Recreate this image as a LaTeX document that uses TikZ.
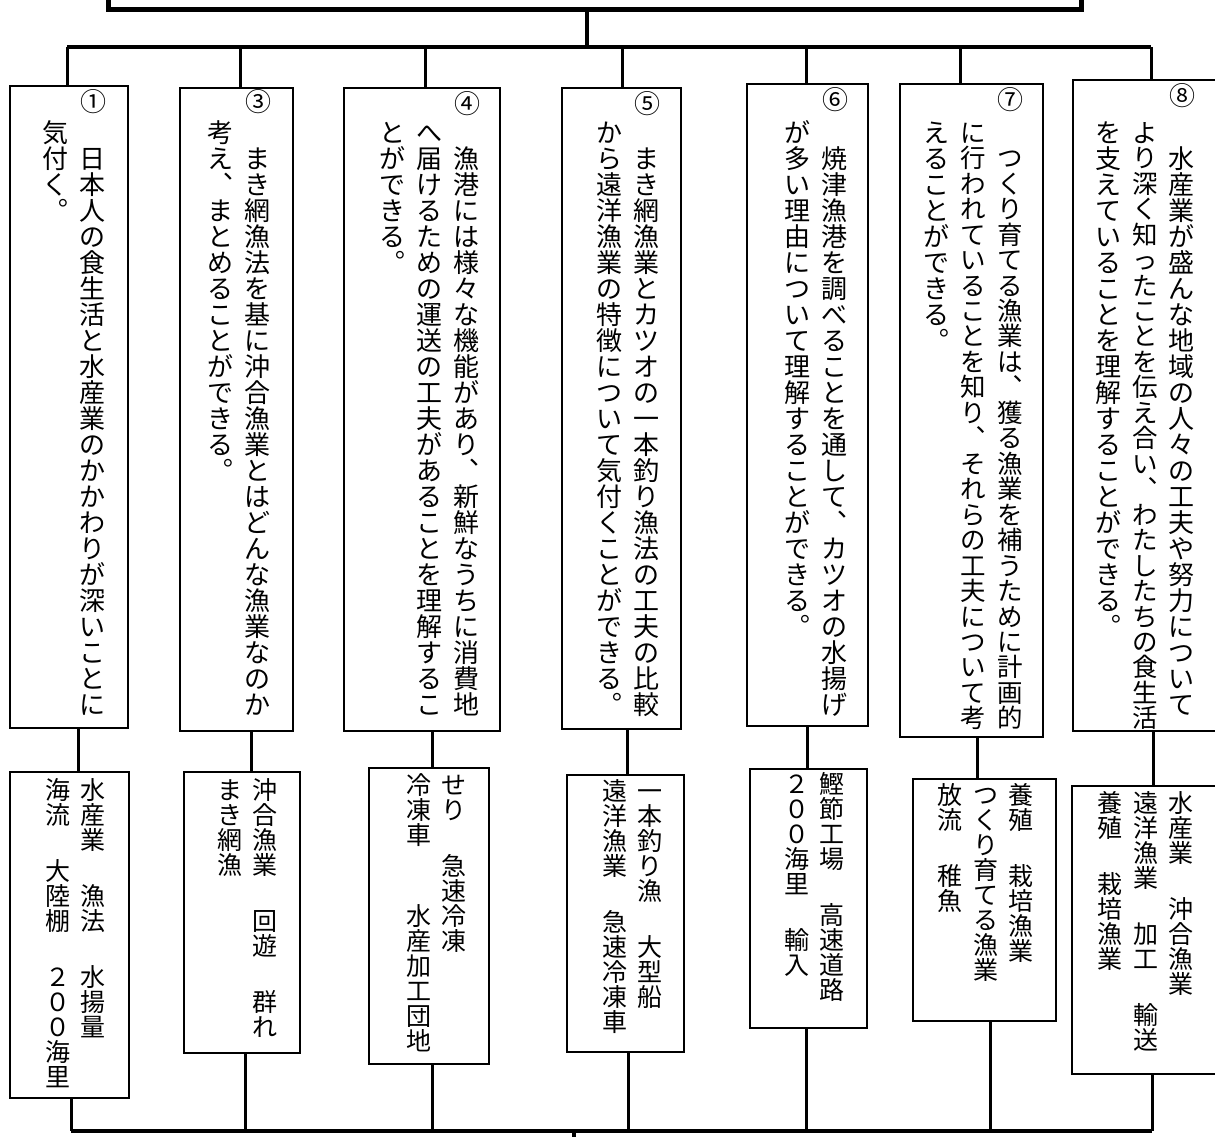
\documentclass[tikz,border=0pt]{standalone}
\usepackage{fontspec}
\setmainfont{Noto Sans CJK JP}
\usetikzlibrary{positioning,fit}

% vertical columns, one character per cell
\newcommand{\tcell}[1]{\hbox to 1em{\hss\vrule height .88em depth .12em width 0pt\relax #1\hss}}
\def\gap{gap}
\def\tcolloop#1{%
  \ifx#1\relax
    \let\next\relax
  \else
    \ifx#1\gap \vskip 1.25em\relax
    \else \tcell{#1}\fi
    \let\next\tcolloop
  \fi
  \next}
\newcommand{\tcol}[1]{\vtop{\offinterlineskip\tcolloop#1\relax}}
% a column that needs one cell more
\newcommand{\tcoll}[1]{{\fontsize{12.73pt}{12.73pt}\selectfont\tcol{#1}}}
\newcommand{\cs}{\hskip .42em}

\tikzset{
  box/.style={draw, line width=1pt, inner sep=0pt},
  bus/.style={line width=2pt},
  link/.style={line width=1.5pt},
  num/.style={inner sep=0pt, font=\fontsize{13pt}{13pt}\selectfont},
  tate/.style={anchor=north east, inner sep=0pt, font=\fontsize{13pt}{13pt}\selectfont},
  kw/.style={tate, font=\fontsize{12.5pt}{12.5pt}\selectfont}
}

\begin{document}
\begin{tikzpicture}[x=0.5pt, y=-0.5pt]
  \useasboundingbox (0,0) rectangle (1215,1136);
  \clip (0,0) rectangle (1215,1136);

  % unit goal box, cut off at the top
  \node[box, line width=2.5pt, fit={(108,-60) (1081,9)}] (top) {};
  \coordinate (hub) at (587,47);
  \draw[bus] (top.south -| hub) -- (hub);
  \coordinate (d1) at (67,47);
  \coordinate (d3) at (240,47);
  \coordinate (d4) at (425,47);
  \coordinate (d5) at (622,47);
  \coordinate (d6) at (806,47);
  \coordinate (d7) at (960,47);
  \coordinate (d8) at (1151,47);
  \draw[bus] (d1) -- (d8);

  % lesson goals
  \node[box, fit={(10,86) (128,728)}] (u1) {};
  \node[box, fit={(180,88) (293,731)}] (u3) {};
  \node[box, fit={(344,88) (500,731)}] (u4) {};
  \node[box, fit={(562,88) (681,729)}] (u5) {};
  \node[box, fit={(747,84) (868,726)}] (u6) {};
  \node[box, fit={(900,84) (1043,737)}] (u7) {};
  \node[box, fit={(1073,80) (1225,731)}] (u8) {};

  \draw[link] (d1) -- (d1 |- u1.north);
  \draw[link] (d3) -- (d3 |- u3.north);
  \draw[link] (d4) -- (d4 |- u4.north);
  \draw[link] (d5) -- (d5 |- u5.north);
  \draw[link] (d6) -- (d6 |- u6.north);
  \draw[link] (d7) -- (d7 |- u7.north);
  \draw[link] (d8) -- (d8 |- u8.north);

  \node[num] (n1) at (93,102) {①};
  \node[num] (n3) at (258,102) {③};
  \node[num] (n4) at (467,104) {④};
  \node[num] (n5) at (647,104) {⑤};
  \node[num] (n6) at (835,100) {⑥};
  \node[num] (n7) at (1010,100) {⑦};
  \node[num] (n8) at (1182,96) {⑧};

  % columns are written left to right, so the last one comes first
  \node[tate] (t1) at (106,119) {\tcol{気付く︒}\cs\tcol{　日本人の食生活と水産業のかかわりが深いことに}};
  \node[tate] (t3) at (271,119) {\tcol{考え︑まとめることができる︒}\cs\tcol{　まき網漁法を基に沖合漁業とはどんな漁業なのか}};
  \node[tate] (t4) at (480,119) {\tcol{とができる︒}\cs\tcol{へ届けるための運送の工夫があることを理解するこ}\cs\tcol{　漁港には様々な機能があり︑新鮮なうちに消費地}};
  \node[tate] (t5) at (660,119) {\tcol{から遠洋漁業の特徴について気付くことができる︒}\cs\tcol{　まき網漁業とカツオの一本釣り漁法の工夫の比較}};
  \node[tate] (t6) at (848,119) {\tcol{が多い理由について理解することができる︒}\cs\tcol{　焼津漁港を調べることを通して︑カツオの水揚げ}};
  \node[tate] (t7) at (1023,119) {\tcol{えることができる︒}\cs\tcoll{に行われていることを知り︑それらの工夫について考}\cs\tcoll{　つくり育てる漁業は︑獲る漁業を補うために計画的}};
  \node[tate] (t8) at (1195,119) {\tcol{を支えていることを理解することができる︒}\cs\tcoll{より深く知ったことを伝え合い︑わたしたちの食生活}\cs\tcol{　水産業が盛んな地域の人々の工夫や努力について}};

  % key words
  \node[box, fit={(10,772) (129,1098)}] (w1) {};
  \node[box, fit={(184,772) (300,1053)}] (w3) {};
  \node[box, fit={(369,768) (489,1064)}] (w4) {};
  \node[box, fit={(567,775) (684,1052)}] (w5) {};
  \node[box, fit={(750,769) (867,1028)}] (w6) {};
  \node[box, fit={(913,779) (1056,1021)}] (w7) {};
  \node[box, fit={(1072,786) (1225,1074)}] (w8) {};

  \coordinate (c1) at (78,750);
  \coordinate (c3) at (251,750);
  \coordinate (c4) at (432,750);
  \coordinate (c5) at (627,750);
  \coordinate (c6) at (807,750);
  \coordinate (c7) at (977,750);
  \coordinate (c8) at (1153,750);
  \draw[link] (c1 |- u1.south) -- (c1 |- w1.north);
  \draw[link] (c3 |- u3.south) -- (c3 |- w3.north);
  \draw[link] (c4 |- u4.south) -- (c4 |- w4.north);
  \draw[link] (c5 |- u5.south) -- (c5 |- w5.north);
  \draw[link] (c6 |- u6.south) -- (c6 |- w6.north);
  \draw[link] (c7 |- u7.south) -- (c7 |- w7.north);
  \draw[link] (c8 |- u8.south) -- (c8 |- w8.north);

  \node[kw] (k1) at (106,777) {\tcol{海流\gap 大陸棚\gap ２００海里}\cs\tcol{水産業\gap 漁法\gap 水揚量}};
  \node[kw] (k3) at (278,777) {\tcol{まき網漁}\cs\tcol{沖合漁業\gap 回遊\gap 群れ}};
  \node[kw] (k4) at (467,772) {\tcol{冷凍車\gap 　水産加工団地}\cs\tcol{せり\gap 急速冷凍}};
  \node[kw] (k5) at (663,778) {\tcol{遠洋漁業\gap 急速冷凍車}\cs\tcol{一本釣り漁\gap 大型船}};
  \node[kw] (k6) at (845,771) {\tcol{２００海里\gap 輸入}\cs\tcol{鰹節工場\gap 高速道路}};
  \node[kw] (k7) at (1034,782) {\tcol{放流\gap 稚魚}\cs\tcol{つくり育てる漁業}\cs\tcol{養殖\gap 栽培漁業}};
  \node[kw] (k8) at (1194,790) {\tcol{養殖\gap 栽培漁業}\cs\tcol{遠洋漁業\gap 加工\gap 輸送}\cs\tcol{水産業\gap 沖合漁業}};

  % joined again below
  \coordinate (e1) at (71,1131);
  \coordinate (e3) at (245,1131);
  \coordinate (e4) at (432,1131);
  \coordinate (e5) at (628,1131);
  \coordinate (e6) at (806,1131);
  \coordinate (e7) at (990,1131);
  \coordinate (e8) at (1152,1131);
  \draw[link] (e1 |- w1.south) -- (e1);
  \draw[link] (e3 |- w3.south) -- (e3);
  \draw[link] (e4 |- w4.south) -- (e4);
  \draw[link] (e5 |- w5.south) -- (e5);
  \draw[link] (e6 |- w6.south) -- (e6);
  \draw[link] (e7 |- w7.south) -- (e7);
  \draw[link] (e8 |- w8.south) -- (e8);
  \draw[bus] (e1) -- (e8);
  \coordinate (out) at (574,1131);
  \draw[bus] (out) -- ++(0,20);
\end{tikzpicture}
\end{document}
